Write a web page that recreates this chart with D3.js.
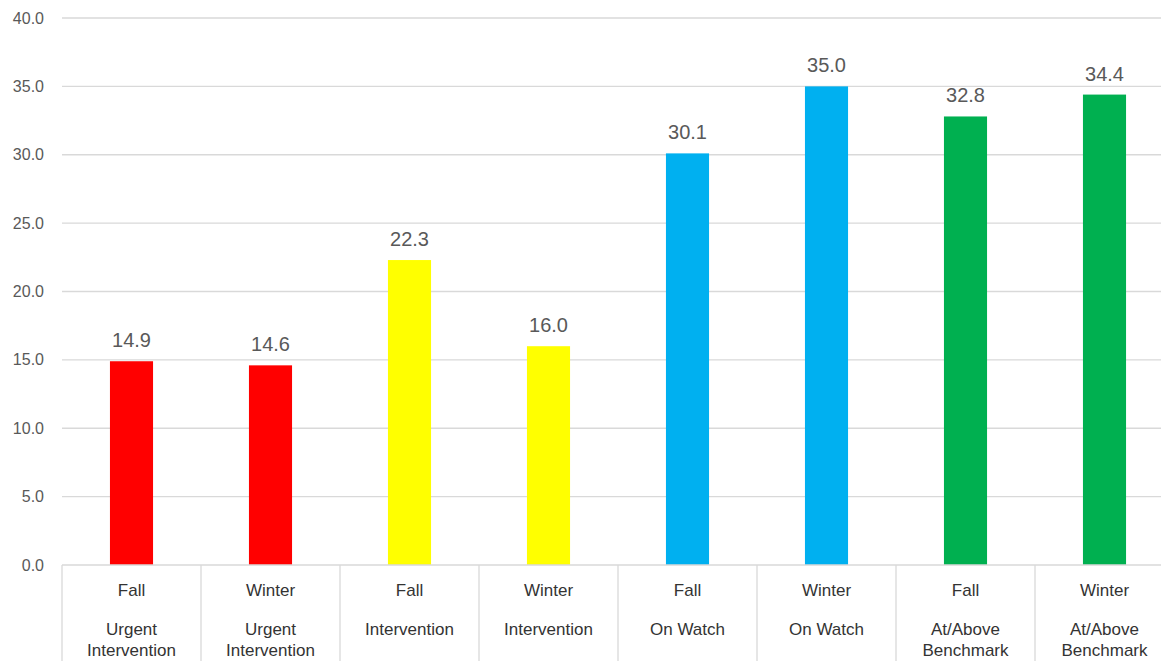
<!DOCTYPE html>
<html>
<head>
<meta charset="utf-8">
<script src="https://cdn.jsdelivr.net/npm/d3@7"></script>
<style>
  html, body { margin: 0; padding: 0; background: #fff; }
  svg { display: block; }
  text { font-family: "Liberation Sans", Arial, sans-serif; }
</style>
</head>
<body>
<svg id="chart" width="1161" height="661"></svg>
<script>
// Term of each assessment window
const terms = ["Fall", "Winter", "Fall", "Winter", "Fall", "Winter", "Fall", "Winter"];
// Performance group for each bar (wrapped onto two lines where needed)
const groups = [
  ["Urgent", "Intervention"], ["Urgent", "Intervention"],
  ["Intervention"], ["Intervention"],
  ["On Watch"], ["On Watch"],
  ["At/Above", "Benchmark"], ["At/Above", "Benchmark"]
];
// Score per bar
const values = [14.9, 14.6, 22.3, 16.0, 30.1, 35.0, 32.8, 34.4];
// Fill per bar
const colors = ["#FF0000", "#FF0000", "#FFFF00", "#FFFF00", "#00B0F0", "#00B0F0", "#00B050", "#00B050"];
// Value axis ticks
const yTicks = [0, 5, 10, 15, 20, 25, 30, 35, 40];

const svg = d3.select("#chart");
const m = { left: 62, right: 1174, top: 18, bottom: 565 };

const x = d3.scaleBand()
  .domain(d3.range(values.length))
  .range([m.left, m.right])
  .paddingInner(0.69)
  .paddingOuter(0.345);

const y = d3.scaleLinear().domain([0, 40]).range([m.bottom, m.top]);

// Horizontal gridlines
svg.append("g")
  .selectAll("line")
  .data(yTicks.filter(d => d > 0))
  .join("line")
  .attr("x1", m.left).attr("x2", m.right)
  .attr("y1", d => y(d)).attr("y2", d => y(d))
  .attr("stroke", "#D9D9D9").attr("stroke-width", 1.3);

// Y tick labels
svg.append("g")
  .selectAll("text")
  .data(yTicks)
  .join("text")
  .attr("x", 44)
  .attr("y", d => y(d) + 5.5)
  .attr("text-anchor", "end")
  .attr("font-size", 16)
  .attr("fill", "#595959")
  .text(d => d3.format(".1f")(d));

// Bars
svg.append("g")
  .selectAll("rect")
  .data(values)
  .join("rect")
  .attr("x", (d, i) => x(i))
  .attr("width", x.bandwidth())
  .attr("y", d => y(d))
  .attr("height", d => y(0) - y(d))
  .attr("fill", (d, i) => colors[i]);

// Value labels
svg.append("g")
  .selectAll("text")
  .data(values)
  .join("text")
  .attr("x", (d, i) => x(i) + x.bandwidth() / 2)
  .attr("y", d => y(d) - 14)
  .attr("text-anchor", "middle")
  .attr("font-size", 20)
  .attr("fill", "#595959")
  .text(d => d3.format(".1f")(d));

// Category axis: baseline and separators
const step = x.step();
svg.append("line")
  .attr("x1", m.left).attr("x2", m.right)
  .attr("y1", m.bottom).attr("y2", m.bottom)
  .attr("stroke", "#D9D9D9").attr("stroke-width", 1.3);

svg.append("g")
  .selectAll("line")
  .data(d3.range(values.length + 1))
  .join("line")
  .attr("x1", i => m.left + i * step).attr("x2", i => m.left + i * step)
  .attr("y1", m.bottom).attr("y2", 661)
  .attr("stroke", "#D9D9D9").attr("stroke-width", 1.3);

const cat = svg.append("g")
  .selectAll("g")
  .data(values.map((d, i) => i))
  .join("g")
  .attr("transform", i => `translate(${x(i) + x.bandwidth() / 2},0)`);

cat.append("text")
  .attr("y", 596)
  .attr("text-anchor", "middle")
  .attr("font-size", 17)
  .attr("fill", "#333333")
  .text(i => terms[i]);

cat.each(function(i) {
  d3.select(this).selectAll("text.grp")
    .data(groups[i])
    .join("text")
    .attr("class", "grp")
    .attr("y", (d, k) => 635 + k * 21)
    .attr("text-anchor", "middle")
    .attr("font-size", 17)
    .attr("fill", "#333333")
    .text(d => d);
});
</script>
</body>
</html>
